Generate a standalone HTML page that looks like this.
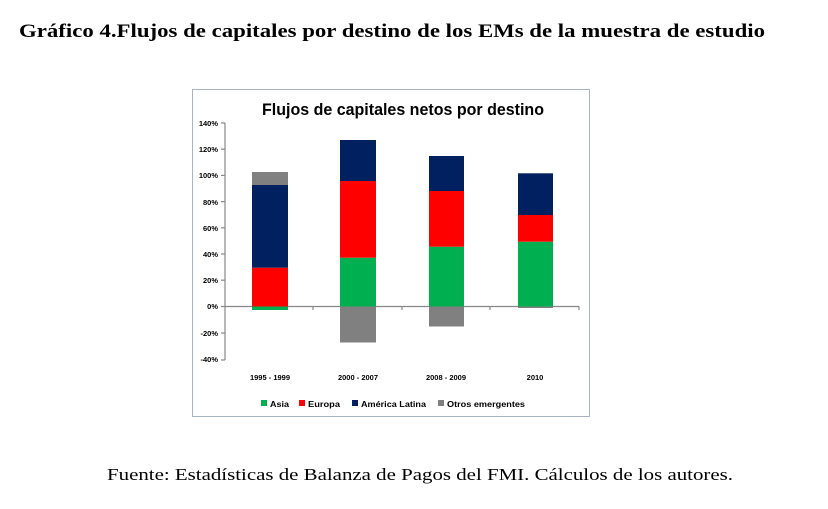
<!DOCTYPE html>
<html><head><meta charset="utf-8"><style>
html,body{margin:0;padding:0;background:#fff;}
svg{display:block;}
</style></head><body>
<svg width="828" height="509" viewBox="0 0 828 509" xmlns="http://www.w3.org/2000/svg">
<text x="19" y="37" font-family="Liberation Serif, serif" font-weight="bold" font-size="19" textLength="746" lengthAdjust="spacingAndGlyphs" fill="#000">Gráfico 4.Flujos de capitales por destino de los EMs de la muestra de estudio</text>
<rect x="192.5" y="89.5" width="397" height="327" fill="#fff" stroke="#a9b4c2" stroke-width="1"/>
<text x="403" y="115" text-anchor="middle" font-family="Liberation Sans, sans-serif" font-weight="bold" font-size="17" textLength="282" lengthAdjust="spacingAndGlyphs" fill="#000">Flujos de capitales netos por destino</text>
<g font-family="Liberation Sans, sans-serif" font-weight="bold" font-size="7.5" fill="#000" text-anchor="end">
<text x="218" y="126">140%</text><text x="218" y="152">120%</text><text x="218" y="178">100%</text>
<text x="218" y="205">80%</text><text x="218" y="231">60%</text><text x="218" y="257">40%</text>
<text x="218" y="283">20%</text><text x="218" y="309">0%</text><text x="218" y="336">-20%</text><text x="218" y="362">-40%</text>
</g>
<g stroke="#888" stroke-width="1.2">
<line x1="225" y1="123" x2="225" y2="360"/>
<line x1="221" y1="123" x2="225" y2="123"/><line x1="221" y1="149.2" x2="225" y2="149.2"/><line x1="221" y1="175.4" x2="225" y2="175.4"/><line x1="221" y1="201.6" x2="225" y2="201.6"/><line x1="221" y1="227.8" x2="225" y2="227.8"/><line x1="221" y1="254" x2="225" y2="254"/><line x1="221" y1="280.2" x2="225" y2="280.2"/><line x1="221" y1="333" x2="225" y2="333"/><line x1="221" y1="360" x2="225" y2="360"/>
<line x1="221" y1="306.5" x2="579" y2="306.5"/>
<line x1="313" y1="306.5" x2="313" y2="310"/><line x1="402" y1="306.5" x2="402" y2="310"/><line x1="490" y1="306.5" x2="490" y2="310"/><line x1="579" y1="306.5" x2="579" y2="310"/>
</g>
<rect x="252" y="306.5" width="36" height="3.5" fill="#00b050"/>
<rect x="252" y="267.7" width="36" height="38.8" fill="#ff0000"/>
<rect x="252" y="185" width="36" height="82.7" fill="#002060"/>
<rect x="252" y="172" width="36" height="13" fill="#808080"/>
<rect x="340" y="257.7" width="36" height="48.8" fill="#00b050"/>
<rect x="340" y="181" width="36" height="76.7" fill="#ff0000"/>
<rect x="340" y="140" width="36" height="41" fill="#002060"/>
<rect x="340" y="306.5" width="36" height="36" fill="#808080"/>
<rect x="429" y="246.7" width="35" height="59.8" fill="#00b050"/>
<rect x="429" y="191" width="35" height="55.7" fill="#ff0000"/>
<rect x="429" y="156" width="35" height="35" fill="#002060"/>
<rect x="429" y="306.5" width="35" height="20" fill="#808080"/>
<rect x="518" y="241.7" width="35" height="64.8" fill="#00b050"/>
<rect x="518" y="215" width="35" height="26.7" fill="#ff0000"/>
<rect x="518" y="173.3" width="35" height="41.7" fill="#002060"/>
<rect x="518" y="306.5" width="35" height="1.5" fill="#808080"/>
<g font-family="Liberation Sans, sans-serif" font-weight="bold" font-size="7.5" fill="#000" text-anchor="middle">
<text x="270" y="380">1995 - 1999</text><text x="358" y="380">2000 - 2007</text><text x="446" y="380">2008 - 2009</text><text x="535" y="380">2010</text>
</g>
<g font-family="Liberation Sans, sans-serif" font-weight="bold" font-size="8" fill="#000">
<rect x="261" y="400" width="6" height="6" fill="#00b050"/><text x="270" y="407" textLength="19" lengthAdjust="spacingAndGlyphs">Asia</text>
<rect x="299" y="400" width="6" height="6" fill="#ff0000"/><text x="308" y="407" textLength="32" lengthAdjust="spacingAndGlyphs">Europa</text>
<rect x="352" y="400" width="6" height="6" fill="#002060"/><text x="361" y="407" textLength="65" lengthAdjust="spacingAndGlyphs">América Latina</text>
<rect x="438" y="400" width="6" height="6" fill="#808080"/><text x="447" y="407" textLength="78" lengthAdjust="spacingAndGlyphs">Otros emergentes</text>
</g>
<text x="107" y="480" font-family="Liberation Serif, serif" font-size="17" textLength="626" lengthAdjust="spacingAndGlyphs" fill="#000">Fuente: Estadísticas de Balanza de Pagos del FMI. Cálculos de los autores.</text>
</svg>
</body></html>
